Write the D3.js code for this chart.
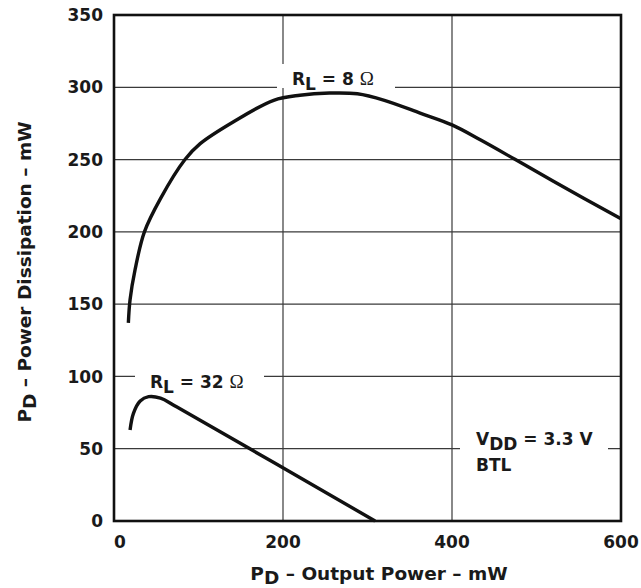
<!DOCTYPE html>
<html>
<head>
<meta charset="utf-8">
<script src="https://cdn.jsdelivr.net/npm/d3@7"></script>
<style>
  html, body { margin: 0; padding: 0; background: #fff; }
  svg text { font-family: "DejaVu Sans", "Liberation Sans", Arial, sans-serif; font-weight: bold; fill: #1a1a1a; }
</style>
</head>
<body>
<svg id="chart" width="641" height="588"></svg>
<script>
// Power dissipation vs output power (BTL, VDD = 3.3 V)
const xTicks = [0, 200, 400, 600];
const yTicks = [0, 50, 100, 150, 200, 250, 300, 350];

// R_L = 8 ohm curve: [output power mW, dissipation mW]
const load8Power = [17, 19, 25, 36, 55, 84, 102, 141, 189, 220, 255, 288, 320, 363, 400, 434, 475, 520, 600];
const load8Diss  = [137, 153, 174, 200, 223, 250, 261, 276, 291, 294.5, 296, 295.5, 291, 282, 274, 263.5, 250, 235, 209];

// R_L = 32 ohm curve
const load32Power = [19, 23, 31, 41, 55, 74, 309];
const load32Diss  = [63, 74.5, 83, 86, 85, 79, 0];

const svg = d3.select("#chart");
const x = d3.scaleLinear().domain([0, 600]).range([114, 621]);
const y = d3.scaleLinear().domain([0, 350]).range([521, 15]);

// grid lines
const grid = svg.append("g").attr("stroke", "#3a3a3a").attr("stroke-width", 1.2);
grid.selectAll(".gy").data(yTicks.slice(1, -1)).enter().append("line")
  .attr("x1", x(0)).attr("x2", x(600))
  .attr("y1", d => y(d)).attr("y2", d => y(d));
grid.selectAll(".gx").data(xTicks.slice(1, -1)).enter().append("line")
  .attr("x1", d => x(d)).attr("x2", d => x(d))
  .attr("y1", y(0)).attr("y2", y(350));

// curves
const line = d3.line().curve(d3.curveCatmullRom.alpha(0.5))
  .x(d => x(d[0])).y(d => y(d[1]));
const series = [
  d3.zip(load8Power, load8Diss),
  d3.zip(load32Power, load32Diss)
];
svg.append("g").selectAll("path").data(series).enter().append("path")
  .attr("d", line)
  .attr("fill", "none")
  .attr("stroke", "#111")
  .attr("stroke-width", 3.4)
  .attr("stroke-linejoin", "round")
  .attr("stroke-linecap", "butt");

// labels with white backing over the grid
function backing(bx, by, bw, bh) {
  svg.append("rect").attr("x", bx).attr("y", by).attr("width", bw).attr("height", bh).attr("fill", "#fff");
}
backing(277, 64, 118, 24);
backing(135, 366, 129, 22);
backing(460, 428, 148, 46);

function rl(tx, ty, val) {
  const t = svg.append("text").attr("x", tx).attr("y", ty).attr("font-size", 17);
  t.append("tspan").text("R");
  t.append("tspan").attr("dy", 5).text("L");
  t.append("tspan").attr("dy", -5).text(" = " + val + " ");
  t.append("tspan").attr("font-family", "Liberation Serif, Times New Roman, serif")
    .attr("font-weight", "normal").attr("font-size", 19).text("\u03A9");
}
rl(292, 85, "8");
rl(150, 388, "32");

const vdd = svg.append("text").attr("x", 476).attr("y", 445).attr("font-size", 17);
vdd.append("tspan").text("V");
vdd.append("tspan").attr("dy", 5).text("DD");
vdd.append("tspan").attr("dy", -5).text(" = 3.3 V");
svg.append("text").attr("x", 476).attr("y", 471).attr("font-size", 17).text("BTL");

// frame
svg.append("rect")
  .attr("x", x(0)).attr("y", y(350))
  .attr("width", x(600) - x(0)).attr("height", y(0) - y(350))
  .attr("fill", "none").attr("stroke", "#111").attr("stroke-width", 2.6);

// tick labels
svg.append("g").selectAll("text").data(yTicks).enter().append("text")
  .attr("x", 103).attr("y", d => y(d)).attr("dy", "0.36em")
  .attr("text-anchor", "end").attr("font-size", 17).text(d => d);
svg.append("g").selectAll("text").data(xTicks).enter().append("text")
  .attr("x", d => x(d) + (d === 0 ? 6 : 0)).attr("y", 548)
  .attr("text-anchor", "middle").attr("font-size", 17).text(d => d);

// axis titles
const xt = svg.append("text").attr("x", 379).attr("y", 580).attr("text-anchor", "middle").attr("font-size", 18.5);
xt.append("tspan").text("P");
xt.append("tspan").attr("dy", 4).text("D");
xt.append("tspan").attr("dy", -4).text(" \u2013 Output Power \u2013 mW");

const yt = svg.append("text").attr("transform", "translate(31,272) rotate(-90)")
  .attr("text-anchor", "middle").attr("font-size", 18.5);
yt.append("tspan").text("P");
yt.append("tspan").attr("dy", 5).text("D");
yt.append("tspan").attr("dy", -5).text(" \u2013 Power Dissipation \u2013 mW");
</script>
</body>
</html>
